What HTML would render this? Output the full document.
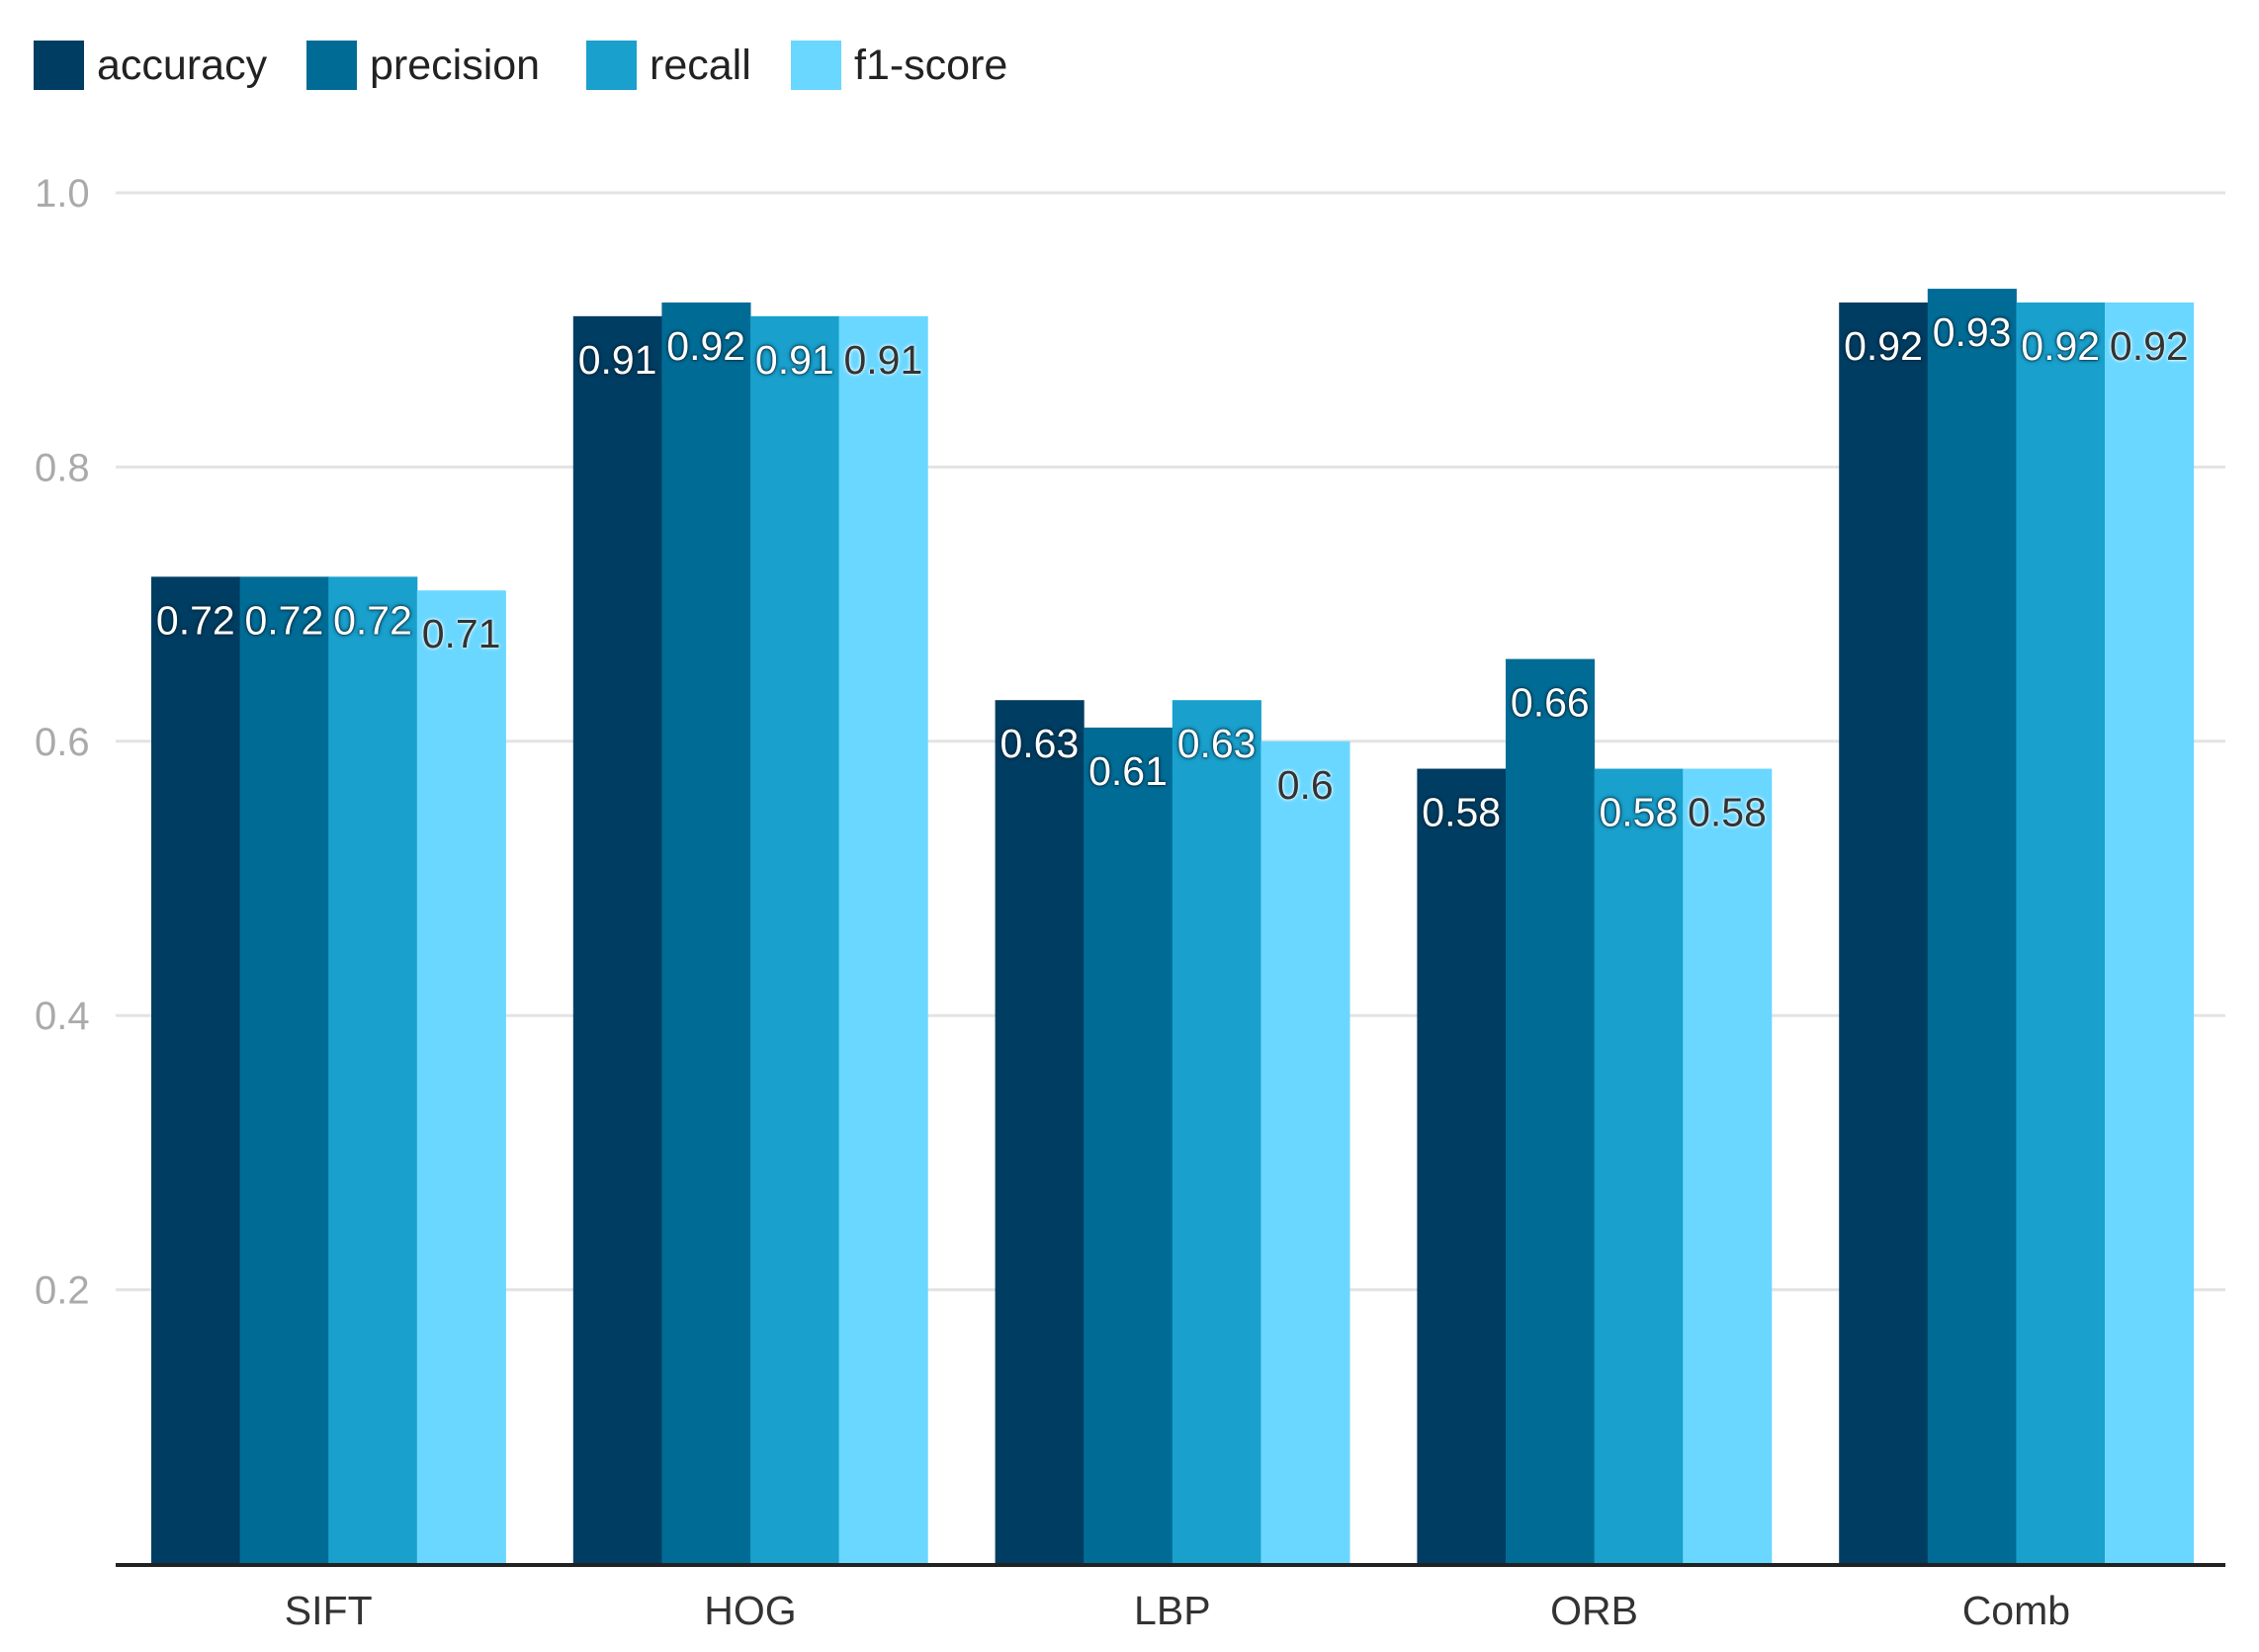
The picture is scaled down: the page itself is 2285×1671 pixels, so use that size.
<!DOCTYPE html>
<html><head><meta charset="utf-8"><style>
html,body{margin:0;padding:0;background:#fff;}
svg{display:block;font-family:"Liberation Sans",Arial,sans-serif;}
</style></head><body>
<svg id="chart" width="2285" height="1671" viewBox="0 0 2285 1671" xmlns="http://www.w3.org/2000/svg">
<g id="legend"></g>
<g id="grid"></g>
<g id="bars"></g>
<g id="labels"></g>
<g id="xaxis"></g>
</svg>
<script>
const categories = ["SIFT","HOG","LBP","ORB","Comb"];
const seriesNames = ["accuracy","precision","recall","f1-score"];
const accuracy = [0.72,0.91,0.63,0.58,0.92];
const precision = [0.72,0.92,0.61,0.66,0.93];
const recall = [0.72,0.91,0.63,0.58,0.92];
const f1score = [0.71,0.91,0.60,0.58,0.92];
const yTicks = [0.2,0.4,0.6,0.8,1.0];
const yTickLabels = ["0.2","0.4","0.6","0.8","1.0"];

const series = [accuracy, precision, recall, f1score];
const colors = ["#003d62","#006c96","#19a0cc","#69d7ff"];
const NS = "http://www.w3.org/2000/svg";
const plotL = 117, plotR = 2251, baseY = 1582, topY = 195;
const yMax = 1.0;
function y(v){ return baseY - (v / yMax) * (baseY - topY); }
const band = (plotR - plotL) / categories.length;
const barW = 89.6;
function groupX(i){ return plotL + i * band + 36; }
function mk(tag, attrs, parent){
  const e = document.createElementNS(NS, tag);
  for (const k in attrs) e.setAttribute(k, attrs[k]);
  parent.appendChild(e);
  return e;
}
const grid = document.getElementById('grid');
yTicks.forEach((t, i) => {
  const l = mk('line', {x1: plotL, x2: plotR, y1: y(t), y2: y(t), stroke: '#e3e3e3', 'stroke-width': 3}, grid);
  
  
  const tx = mk('text', {x: 35, y: y(t) + 14, fill: '#aaaaaa', 'font-size': 40}, grid);
  tx.textContent = yTickLabels[i];
  
  
});
const barsG = document.getElementById('bars');
const labelsG = document.getElementById('labels');
categories.forEach((c, i) => {
  series.forEach((s, j) => {
    const x = groupX(i) + j * barW;
    const r = mk('rect', {x: x, y: y(s[i]), width: barW + 0.5, height: baseY - y(s[i]), fill: colors[j]}, barsG);
    
    
    const dark = j === 3;
    const lbl = mk('text', {x: x + barW / 2, y: y(s[i]) + 58, 'text-anchor': 'middle', 'font-size': 41,
      fill: dark ? '#333333' : '#ffffff',
      style: dark ? 'text-shadow:0 0 4px #fff,0 0 2px #fff' : 'text-shadow:0 0 4px #002233,0 0 2px #002233'}, labelsG);
    lbl.textContent = String(s[i]);
    
    
  });
});
const xaxis = document.getElementById('xaxis');
const ax = mk('line', {x1: plotL, x2: plotR, y1: baseY + 1, y2: baseY + 1, stroke: '#222', 'stroke-width': 4}, xaxis);


categories.forEach((c, i) => {
  const t = mk('text', {x: groupX(i) + 2 * barW, y: 1643, 'text-anchor': 'middle', 'font-size': 41, fill: '#333'}, xaxis);
  t.textContent = c;
  
  
});
const legend = document.getElementById('legend');
const legX = [34, 310, 593, 800];
seriesNames.forEach((n, j) => {
  const g = mk('g', {}, legend);
  
  
  mk('rect', {x: legX[j], y: 41, width: 51, height: 50, fill: colors[j]}, g);
  const t = mk('text', {x: legX[j] + 64, y: 80, 'font-size': 43, fill: '#222'}, g);
  t.textContent = n;
});
</script>
</body></html>
